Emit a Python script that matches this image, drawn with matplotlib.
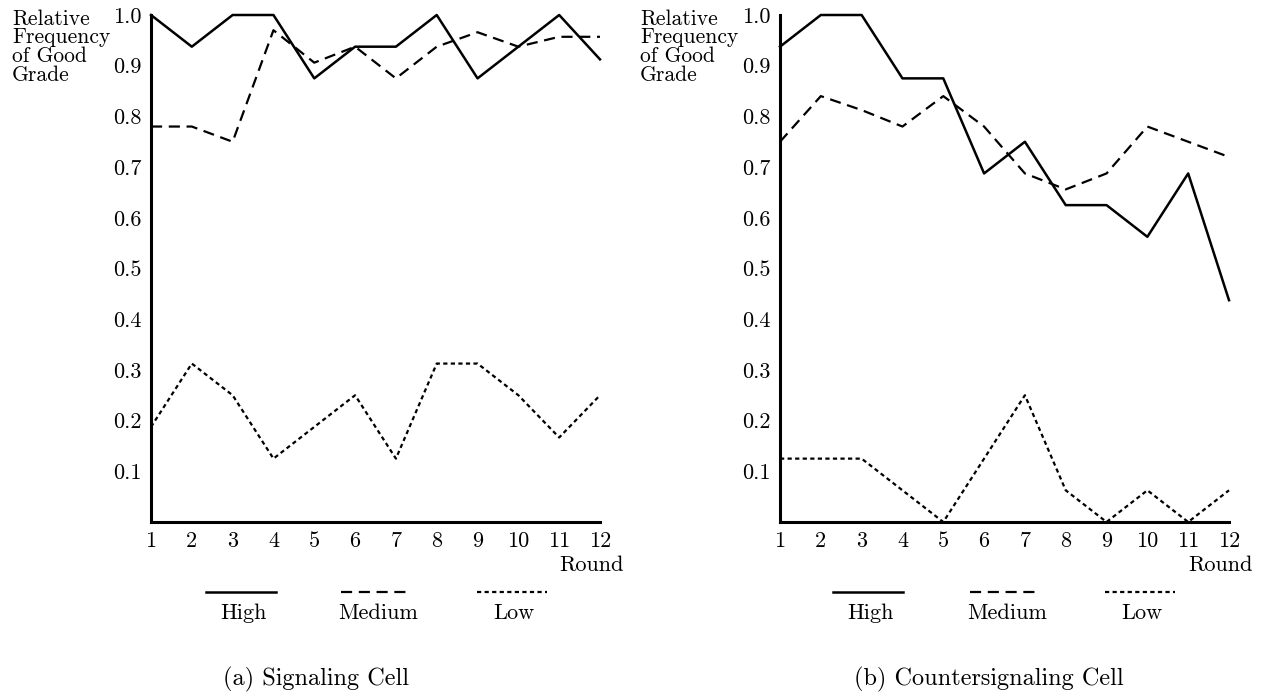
import matplotlib
matplotlib.use('Agg')
import matplotlib.pyplot as plt
from matplotlib.lines import Line2D

plt.rcParams['font.family'] = 'cmr10'
plt.rcParams['mathtext.fontset'] = 'cm'
plt.rcParams['axes.formatter.use_mathtext'] = True

rounds = list(range(1, 13))

# (a) signaling cell
sig_high = [1.0, 0.9375, 1.0, 1.0, 0.875, 0.9375, 0.9375, 1.0, 0.875, 0.9375, 1.0, 0.9125]
sig_medium = [0.78, 0.78, 0.75, 0.97, 0.906, 0.9375, 0.875, 0.9375, 0.966, 0.9375, 0.957, 0.957]
sig_low = [0.1875, 0.3125, 0.25, 0.125, 0.1875, 0.25, 0.125, 0.3125, 0.3125, 0.25, 0.1667, 0.25]

# (b) countersignaling cell
cnt_high = [0.9375, 1.0, 1.0, 0.875, 0.875, 0.6875, 0.75, 0.625, 0.625, 0.5625, 0.6875, 0.4375]
cnt_medium = [0.75, 0.84, 0.8125, 0.78, 0.84, 0.78, 0.6875, 0.656, 0.6875, 0.78, 0.75, 0.72]
cnt_low = [0.125, 0.125, 0.125, 0.0625, 0.0, 0.125, 0.25, 0.0625, 0.0, 0.0625, 0.0, 0.0625]

ytick_vals = [0.1, 0.2, 0.3, 0.4, 0.5, 0.6, 0.7, 0.8, 0.9, 1.0]
ytick_labels = ['0.1', '0.2', '0.3', '0.4', '0.5', '0.6', '0.7', '0.8', '0.9', '1.0']
series_names = ['High', 'Medium', 'Low']
captions = ['(a) Signaling Cell', '(b) Countersignaling Cell']

W, H = 1261, 695
fig = plt.figure(figsize=(W / 100, H / 100), dpi=100)

styles = [
    dict(linestyle='-', linewidth=1.8),
    dict(linestyle=(0, (5.0, 3.0)), linewidth=1.6),
    dict(linestyle=(0, (1.9, 1.5)), linewidth=1.6),
]

panels = [
    (151, [sig_high, sig_medium, sig_low], 12, [206, 341, 477], 316),
    (780, [cnt_high, cnt_medium, cnt_low], 640, [833, 970, 1105], 989),
]

fs = 16

for i, (x0, data, lab_x, leg_x, cap_x) in enumerate(panels):
    ax = fig.add_axes([x0 / W, 1 - 522 / H, 449 / W, 507 / H])
    for vals, st in zip(data, styles):
        ax.plot(rounds, vals, color='black', clip_on=False, **st)
    ax.set_xlim(1, 12)
    ax.set_ylim(0, 1.0)
    ax.set_xticks(rounds)
    ax.set_xticklabels([str(r) for r in rounds], fontsize=fs)
    ax.set_yticks(ytick_vals)
    ax.set_yticklabels(ytick_labels, fontsize=fs)
    ax.tick_params(length=0, pad=7)
    for s in ['top', 'right']:
        ax.spines[s].set_visible(False)
    for s in ['left', 'bottom']:
        ax.spines[s].set_linewidth(2.2)

    fig.text(lab_x / W, 1 - 9 / H, 'Relative\nFrequency\nof Good\nGrade',
             ha='left', va='top', fontsize=15.5, linespacing=0.95)
    fig.text((x0 + 441) / W, 1 - 565 / H, 'Round', ha='center', va='center', fontsize=fs)

    # legend drawn by hand under the axes
    for lx, st, name in zip(leg_x, styles, series_names):
        fig.add_artist(Line2D([lx / W, (lx + 70) / W], [1 - 592 / H, 1 - 592 / H],
                              color='black', transform=fig.transFigure, **st))
        fig.text((lx + 37) / W, 1 - 613 / H, name, ha='center', va='center', fontsize=fs)

    fig.text(cap_x / W, 1 - 679 / H, captions[i], ha='center', va='center', fontsize=17.5)

fig.savefig('out.png', dpi=100)
